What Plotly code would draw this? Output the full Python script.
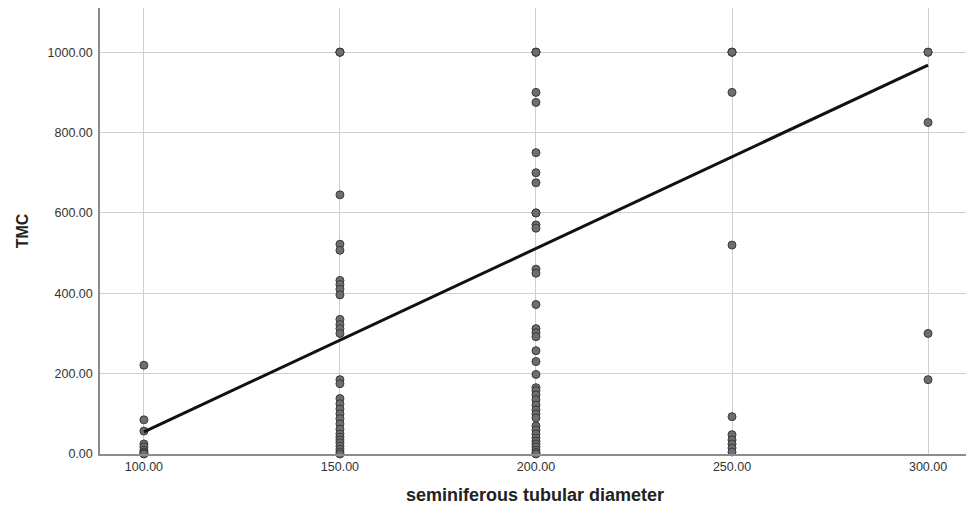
import plotly.graph_objects as go

# ---- data ----
x_categories = [100, 150, 200, 250, 300]

tmc_100 = [221, 85, 57, 25, 18, 10, 5, 2, 0]
tmc_150 = [1000, 1000, 1000, 645, 522, 507, 432, 422, 410, 396, 335, 322, 312, 300,
           185, 175, 138, 125, 112, 100, 88, 75, 62, 50, 42, 35, 28, 20, 12, 5, 0]
tmc_200 = [1000, 1000, 1000, 900, 875, 750, 700, 675, 600, 600, 570, 562, 460, 450, 372,
           312, 302, 292, 257, 230, 198, 165, 158, 147, 135, 122, 110, 100, 90,
           70, 60, 50, 40, 32, 25, 18, 10, 4, 0]
tmc_250 = [1000, 1000, 1000, 900, 520, 93, 48, 35, 25, 15, 5]
tmc_300 = [1000, 1000, 825, 300, 185]

# fitted line endpoints
fit_x = [100, 300]
fit_y = [55, 968]

y_ticks = [0, 200, 400, 600, 800, 1000]

series = [tmc_100, tmc_150, tmc_200, tmc_250, tmc_300]
xs, ys = [], []
for xc, vals in zip(x_categories, series):
    xs += [xc] * len(vals)
    ys += vals

fig = go.Figure()
fig.add_trace(go.Scatter(
    x=xs, y=ys, mode="markers",
    marker=dict(size=8, color="#6e6e6e", line=dict(color="#3a3a3a", width=1)),
    showlegend=False, cliponaxis=False,
))
fig.add_trace(go.Scatter(
    x=fit_x, y=fit_y, mode="lines",
    line=dict(color="#111111", width=3),
    showlegend=False,
))

font_family = "Liberation Sans, Arial, sans-serif"
# page body has an 8px margin, so the figure is sized/offset to compensate
fig.update_layout(
    width=966, height=497,
    margin=dict(l=92, r=4, t=0, b=51),
    paper_bgcolor="white", plot_bgcolor="white",
    font=dict(family=font_family, size=12.5, color="#333333"),
    xaxis=dict(
        range=[88.8, 310.7],
        tickvals=x_categories,
        ticktext=[f"{v:.2f}" for v in x_categories],
        showgrid=True, gridcolor="#cfcfcf", gridwidth=1,
        showline=True, linecolor="#8c8c8c", linewidth=1.5,
        zeroline=False, ticks="", automargin=False,
        tickfont=dict(size=12.5, color="#333333"),
        title=dict(text="<b>seminiferous tubular diameter</b>",
                   font=dict(size=18, color="#222222"), standoff=16),
    ),
    yaxis=dict(
        range=[0, 1110],
        tickvals=y_ticks,
        ticktext=[f"{v:.2f}" for v in y_ticks],
        showgrid=True, gridcolor="#cfcfcf", gridwidth=1,
        showline=True, linecolor="#8c8c8c", linewidth=1.5,
        zeroline=False, ticks="", automargin=False,
        ticklabelstandoff=3,
        tickfont=dict(size=12.5, color="#333333"),
        title=dict(text="<b>TMC</b>", font=dict(size=16, color="#222222"), standoff=15),
    ),
)

fig.write_html("out.html")
